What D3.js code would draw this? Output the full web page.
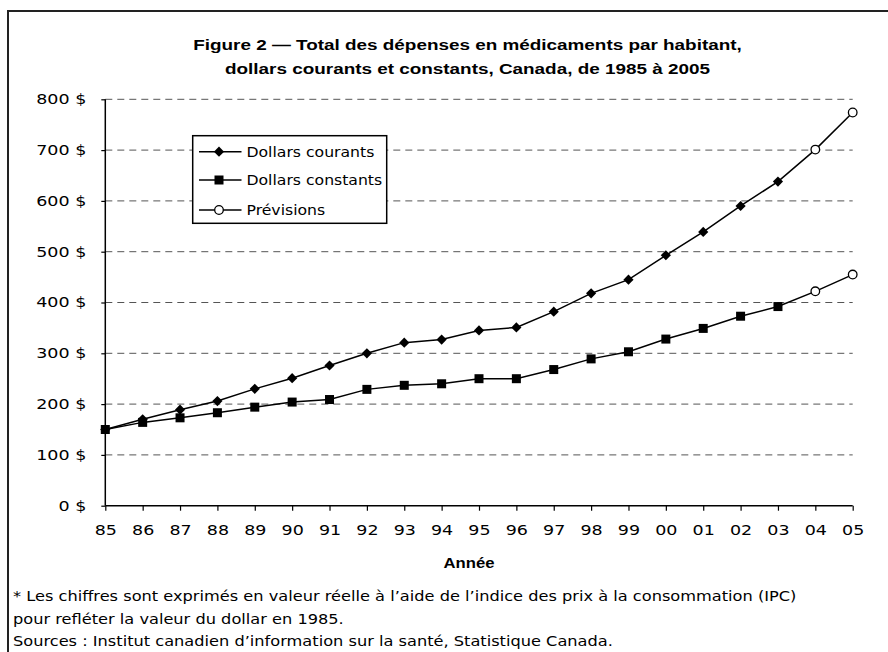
<!DOCTYPE html>
<html><head><meta charset="utf-8">
<script src="https://cdn.jsdelivr.net/npm/d3@7"></script>
<style>body{margin:0;background:#fff}svg{display:block}</style>
</head><body>
<svg id="c" width="888" height="652"></svg>
<script>
const years = ["85","86","87","88","89","90","91","92","93","94","95","96","97","98","99","00","01","02","03","04","05"];
const currentDollars = [150,170,189,206,230,251,276,300,321,327,345,351,382,418,445,493,539,590,638];
const constantDollars = [150,164,173,183,194,204,209,229,237,240,250,250,268,289,303,328,349,373,392];
const forecastYears = ["04","05"];
const forecastCurrent = [701,774];
const forecastConstant = [422,455];
const yTicks = [0,100,200,300,400,500,600,700,800];
const titleLines = ["Figure 2 \u2014 Total des dépenses en médicaments par habitant,","dollars courants et constants, Canada, de 1985 à 2005"];
const legendLabels = ["Dollars courants","Dollars constants","Prévisions"];
const xTitle = "Année";
const notes = ["* Les chiffres sont exprimés en valeur réelle à l\u2019aide de l\u2019indice des prix à la consommation (IPC)","pour refléter la valeur du dollar en 1985.","Sources : Institut canadien d\u2019information sur la santé, Statistique Canada."];

const svg = d3.select("#c");
const FONT = "'DejaVu Sans', Verdana, sans-serif";
const SANS = "'Liberation Sans', Arial, sans-serif";
// frame
svg.append("path").attr("d","M8,660 V11 H900").attr("fill","none").attr("stroke","#222").attr("stroke-width",2);

const x = d3.scalePoint().domain(years).range([105.3,852.7]);
const y = d3.scaleLinear().domain([0,800]).range([505.7,99.3]);

function stext(px, py, sx, s, anchor){
  return svg.append("text").attr("transform",`translate(${px},${py}) scale(${sx},1)`)
    .attr("text-anchor",anchor||"start").attr("fill","#000").text(s);
}

// title
titleLines.forEach((s,i)=>stext(467.5, 50+i*24, 1.22, s, "middle")
  .attr("font-family",SANS).attr("font-weight","bold").attr("font-size",15.5));

// gridlines
svg.append("g").selectAll("line").data(yTicks.filter(d=>d>0)).join("line")
  .attr("x1",x.range()[0]).attr("x2",x.range()[1]).attr("y1",d=>y(d)).attr("y2",d=>y(d))
  .attr("stroke","#555").attr("stroke-width",1).attr("stroke-dasharray","7,5");

// axes
const yAxis = d3.axisLeft(y).tickValues(yTicks).tickSize(4).tickPadding(15).tickFormat(d=>d+" $");
const gy = svg.append("g").attr("transform",`translate(${x.range()[0]},0)`).call(yAxis);
const xAxis = d3.axisBottom(x).tickSize(5).tickPadding(14);
const gx = svg.append("g").attr("transform",`translate(0,${y(0)})`).call(xAxis);
[gx,gy].forEach(g=>{
  g.select(".domain").attr("stroke","#000").attr("stroke-width",1.5);
  g.selectAll(".tick line").attr("stroke","#000").attr("stroke-width",1.2);
  g.selectAll(".tick text").attr("font-family",FONT).attr("font-size",14).attr("fill","#000");
});
gx.selectAll(".tick text").attr("transform","scale(1.25,1)");
gy.selectAll(".tick text").attr("x",-19/1.25).attr("transform","scale(1.25,1)");
gx.select(".domain").attr("d",`M${x.range()[0]},0H${x.range()[1]}`);
gy.select(".domain").attr("d",`M0,${y(800)}V${y(0)}`);

stext(469, 568, 1.15, xTitle, "middle").attr("font-family",SANS).attr("font-weight","bold").attr("font-size",14.5);

// lines
const line = d3.line().x(d=>x(d[0])).y(d=>y(d[1]));
function series(vals, fc){
  const pts = vals.map((v,i)=>[years[i],v]);
  const fpts = fc.map((v,i)=>[forecastYears[i],v]);
  return {pts, fpts};
}
const sC = series(currentDollars, forecastCurrent);
const sK = series(constantDollars, forecastConstant);
[sC,sK].forEach(s=>{
  svg.append("path").attr("d",line(s.pts.concat(s.fpts))).attr("fill","none").attr("stroke","#000").attr("stroke-width",1.5);
});
const diamond = d3.symbol().type(d3.symbolDiamond2).size(66);
svg.append("g").selectAll("path").data(sC.pts).join("path")
  .attr("d",diamond).attr("transform",d=>`translate(${x(d[0])},${y(d[1])})`).attr("fill","#000");
svg.append("g").selectAll("rect").data(sK.pts).join("rect")
  .attr("x",d=>x(d[0])-4.5).attr("y",d=>y(d[1])-4.5).attr("width",9).attr("height",9).attr("fill","#000");
svg.append("g").selectAll("circle").data(sC.fpts.concat(sK.fpts)).join("circle")
  .attr("cx",d=>x(d[0])).attr("cy",d=>y(d[1])).attr("r",4.3).attr("fill","#fff").attr("stroke","#000").attr("stroke-width",1.3);

// legend
const lg = svg.append("g");
lg.append("rect").attr("x",192.7).attr("y",135.7).attr("width",194).attr("height",87.6).attr("fill","#fff").attr("stroke","#000").attr("stroke-width",1.5);
legendLabels.forEach((lab,i)=>{
  const cy = [151.7,180,210][i];
  lg.append("line").attr("x1",199).attr("x2",241.5).attr("y1",cy).attr("y2",cy).attr("stroke","#000").attr("stroke-width",1.5);
  if(i===0) lg.append("path").attr("d",diamond).attr("transform",`translate(219,${cy})`).attr("fill","#000");
  if(i===1) lg.append("rect").attr("x",214.5).attr("y",cy-4.5).attr("width",9).attr("height",9).attr("fill","#000");
  if(i===2) lg.append("circle").attr("cx",219).attr("cy",cy).attr("r",4.3).attr("fill","#fff").attr("stroke","#000").attr("stroke-width",1.3);
  lg.append("text").attr("transform",`translate(246.5,${cy+5}) scale(1.08,1)`).attr("font-family",FONT).attr("font-size",14.5).text(lab);
});

// notes
notes.forEach((s,i)=>{
  stext(13, [601,624,646][i], 1.2, s).attr("font-family",FONT).attr("font-size",13.5);
});
</script>
</body></html>
